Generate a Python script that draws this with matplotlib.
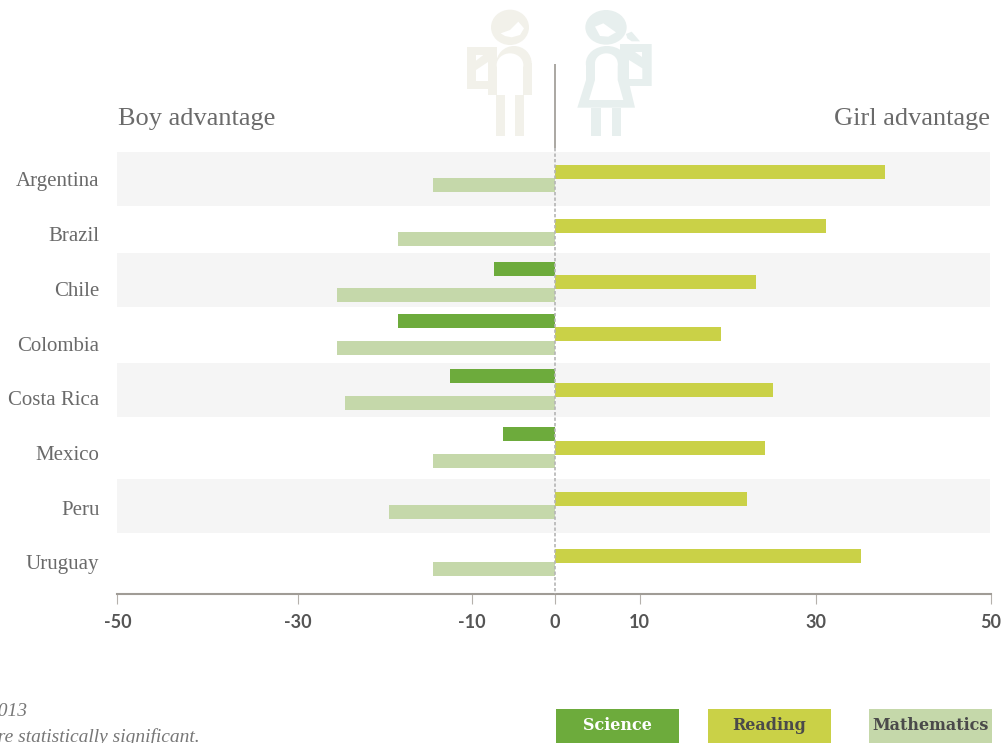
import matplotlib
matplotlib.use("Agg")
import matplotlib.pyplot as plt
from matplotlib.patches import Rectangle, Ellipse, Polygon
from matplotlib.transforms import Affine2D

# ---- data ----
countries = ["Argentina", "Brazil", "Chile", "Colombia", "Costa Rica", "Mexico", "Peru", "Uruguay"]
science = [0, 0, -7, -18, -12, -6, 0, 0]
reading = [37.8, 31, 23, 19, 25, 24, 22, 35]
mathematics = [-14, -18, -25, -25, -24, -14, -19, -14]
tick_labels = ["-50", "-30", "-10", "0", "10", "30", "50"]

# ---- layout (pixel rows of the reference; the source spaces them unevenly) ----
label_y = [179, 234, 289, 344, 398, 453, 508, 562]
science_y = [0, 0, 269, 321, 376, 434, 0, 0]
reading_y = [172, 226, 282, 334, 390, 448, 499, 556]
math_y = [185, 239, 295, 348, 403, 461, 512, 569]
bands = [(152, 206), (253, 307), (363, 417), (479, 533)]
# the source places its ticks slightly off the linear scale
tick_pos = [-50.08, -29.4, -9.5, 0, 9.7, 29.9, 49.92]

W, H = 1003, 743
C_SCI, C_READ, C_MATH = "#6dab3c", "#cad147", "#c5d8aa"
C_AXIS, C_TEXT = "#a09c96", "#6a6a6a"
SERIF = "Liberation Serif"

fig = plt.figure(figsize=(W / 100, H / 100), dpi=100, facecolor="white")
ax = fig.add_axes([117.5 / W, (H - 594) / H, 873.5 / W, 446 / H])
ax.set_xlim(-50.08, 49.92)
ax.set_ylim(594, 148)
ax.patch.set_alpha(0)

for top, bottom in bands:
    ax.axhspan(top, bottom, xmin=0, xmax=0.999, color="#f5f5f5", lw=0, zorder=0)

BAR_H = 14
ax.barh(science_y, science, height=BAR_H, color=C_SCI, lw=0, zorder=2)
ax.barh(reading_y, reading, height=BAR_H, color=C_READ, lw=0, zorder=2)
ax.barh(math_y, mathematics, height=BAR_H, color=C_MATH, lw=0, zorder=2)

ax.plot([0, 0], [148, 64], color="#9c9892", lw=1.2, clip_on=False, zorder=4, solid_capstyle="butt")
ax.plot([0, 0], [148, 594], color="#b5b5b5", lw=1.2, ls=(0, (2, 1.3)), clip_on=False, zorder=4)

for s in ("top", "left", "right"):
    ax.spines[s].set_visible(False)
ax.spines["bottom"].set_color(C_AXIS)
ax.spines["bottom"].set_linewidth(1.5)
ax.set_xticks(tick_pos, tick_labels, fontfamily="Lato", fontweight="bold", fontsize=13, color="#555555")
ax.tick_params(axis="x", length=7.2, width=0.8, color="#b5b1ac", pad=7)
ax.set_yticks(label_y, countries, fontfamily=SERIF, fontsize=15, color=C_TEXT)
ax.tick_params(axis="y", length=0, pad=13)

px = Affine2D().scale(1, -1).translate(0, H)  # reference pixels to display
fig.text(118 / W, 1 - 119 / H, "Boy advantage", family=SERIF, fontsize=19, color=C_TEXT, ha="left", va="center")
fig.text(990 / W, 1 - 119 / H, "Girl advantage", family=SERIF, fontsize=19, color=C_TEXT, ha="right", va="center")

# footnote, cut by the edges of the picture as in the reference
fig.text(28 / W, 1 - 711 / H, "2013", family=SERIF, style="italic", fontsize=14, color="#777777", ha="right", va="center")
fig.text(200 / W, 1 - 737 / H, "are statistically significant.", family=SERIF, style="italic", fontsize=14, color="#777777", ha="right", va="center")

# legend
for x0, name, col, tc in [(556, "Science", C_SCI, "white"), (708, "Reading", C_READ, "#4a4a4a"), (869, "Mathematics", C_MATH, "#4a4a4a")]:
    fig.add_artist(Rectangle((x0, 709), 123, 34, transform=px, color=col, lw=0))
    fig.text((x0 + 61.5) / W, 1 - 725 / H, name, family="DejaVu Serif", fontweight="bold", fontsize=11.5, color=tc, ha="center", va="center")

# pictograms, coordinates in 3x zoom space
z = Affine2D().scale(1 / 3, -1 / 3).translate(440, H)
BOY, GIRL = "#f2f1ea", "#e7efee"


def poly(pts, c):
    fig.add_artist(Polygon(pts, closed=True, transform=z, color=c, lw=0))


def ell(cx, cy, w, h, c):
    fig.add_artist(Ellipse((cx, cy), w, h, transform=z, color=c, lw=0))


# boy
ell(210, 82, 114, 106, BOY)
poly([(182, 100), (210, 90), (235, 65), (252, 85), (240, 105), (215, 112), (195, 108)], "white")
poly([(82, 142), (170, 142), (170, 285), (145, 285), (145, 268), (82, 268)], BOY)
ell(222, 190, 106, 104, BOY)
poly([(170, 190), (275, 190), (275, 285), (170, 285)], BOY)
ell(210, 195, 80, 70, "white")
poly([(170, 195), (250, 195), (250, 285), (170, 285)], "white")
poly([(108, 165), (130, 165), (108, 182)], "white")
poly([(145, 185), (145, 243), (108, 243), (108, 210)], "white")
poly([(168, 285), (195, 285), (195, 408), (168, 408)], BOY)
poly([(225, 285), (252, 285), (252, 408), (225, 408)], BOY)

# girl
ell(498, 82, 124, 104, GIRL)
poly([(465, 80), (490, 70), (528, 97), (505, 110), (480, 108)], "white")
poly([(558, 102), (575, 95), (600, 124), (575, 124), (562, 115)], GIRL)
poly([(540, 132), (635, 132), (635, 258), (560, 258), (540, 180)], GIRL)
ell(501, 190, 127, 104, GIRL)
poly([(438, 190), (565, 190), (565, 240), (585, 323), (412, 323), (438, 240)], GIRL)
ell(499, 190, 68, 60, "white")
poly([(465, 190), (533, 190), (533, 240), (550, 300), (447, 300), (465, 240)], "white")
poly([(585, 157), (607, 157), (607, 172)], "white")
poly([(567, 180), (607, 205), (607, 237), (567, 237)], "white")
poly([(453, 323), (483, 323), (483, 407), (453, 407)], GIRL)
poly([(515, 323), (543, 323), (543, 407), (515, 407)], GIRL)

fig.savefig("out.png", dpi=100)
